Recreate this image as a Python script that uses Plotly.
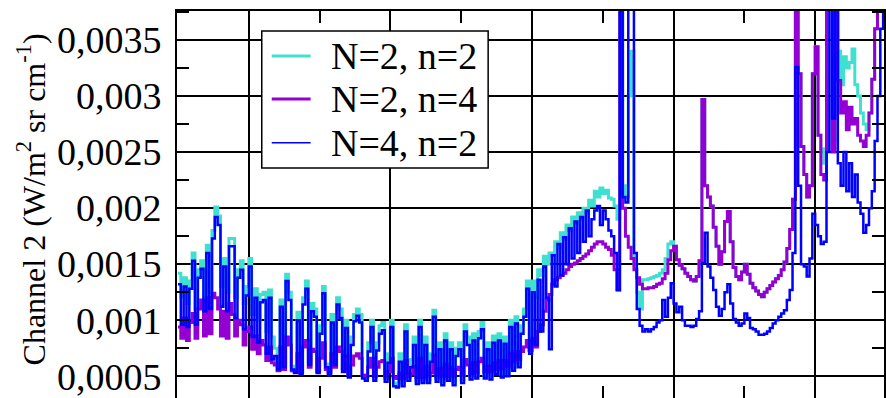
import numpy as np
import plotly.graph_objects as go

# Spectral grid (cm^-1) on which the three radiance spectra are sampled
wavenumber = np.arange(1950, 2450, 2)

# Channel 2 radiance, N=2, n=2
rad_N2_n2 = [
    0.00142, 0.00120, 0.00138, 0.00115, 0.00135, 0.00160, 0.00110, 0.00145, 0.00153, 0.00120,
    0.00167, 0.00125, 0.00180, 0.00201, 0.00193, 0.00130, 0.00155, 0.00125, 0.00173, 0.00173,
    0.00120, 0.00145, 0.00153, 0.00115, 0.00130, 0.00155, 0.00105, 0.00128, 0.00100, 0.00123,
    0.00125, 0.00090, 0.00127, 0.00085, 0.00075, 0.00059, 0.00118, 0.00061, 0.00141, 0.00125,
    0.00059, 0.00056, 0.00107, 0.00055, 0.00120, 0.00135, 0.00063, 0.00115, 0.00110, 0.00056,
    0.00095, 0.00130, 0.00061, 0.00054, 0.00105, 0.00063, 0.00120, 0.00110, 0.00057, 0.00100,
    0.00052, 0.00085, 0.00105, 0.00110, 0.00105, 0.00051, 0.00049, 0.00080, 0.00100, 0.00049,
    0.00080, 0.00095, 0.00098, 0.00048, 0.00070, 0.00100, 0.00044, 0.00043, 0.00070, 0.00044,
    0.00096, 0.00049, 0.00065, 0.00085, 0.00046, 0.00100, 0.00047, 0.00085, 0.00047, 0.00070,
    0.00109, 0.00048, 0.00080, 0.00045, 0.00088, 0.00049, 0.00080, 0.00045, 0.00075, 0.00080,
    0.00047, 0.00096, 0.00085, 0.00050, 0.00088, 0.00051, 0.00090, 0.00098, 0.00051, 0.00080,
    0.00050, 0.00086, 0.00055, 0.00088, 0.00052, 0.00085, 0.00053, 0.00100, 0.00058, 0.00103,
    0.00061, 0.00095, 0.00110, 0.00135, 0.00073, 0.00135, 0.00120, 0.00145, 0.00140, 0.00157,
    0.00150, 0.00160, 0.00158, 0.00170, 0.00164, 0.00178, 0.00172, 0.00185, 0.00180, 0.00192,
    0.00186, 0.00196, 0.00190, 0.00200, 0.00196, 0.00207, 0.00202, 0.00215, 0.00210, 0.00218,
    0.00213, 0.00216, 0.00209, 0.00208, 0.00202, 0.00190, 0.00400, 0.00220, 0.00210, 0.00300,
    0.00340, 0.00150, 0.00125, 0.00110, 0.00136, 0.00136, 0.00137, 0.00138, 0.00139, 0.00140,
    0.00142, 0.00145, 0.00155, 0.00168, 0.00170, 0.00166, 0.00154, 0.00149, 0.00146, 0.00142,
    0.00139, 0.00136, 0.00135, 0.00139, 0.00153, 0.00297, 0.00220, 0.00210, 0.00202, 0.00183,
    0.00166, 0.00150, 0.00161, 0.00188, 0.00197, 0.00170, 0.00147, 0.00139, 0.00136, 0.00143,
    0.00150, 0.00141, 0.00133, 0.00129, 0.00126, 0.00123, 0.00121, 0.00125, 0.00128, 0.00131,
    0.00134, 0.00137, 0.00140, 0.00145, 0.00152, 0.00164, 0.00181, 0.00208, 0.00450, 0.00320,
    0.00255, 0.00230, 0.00210, 0.00220, 0.00320, 0.00344, 0.00265, 0.00253, 0.00240, 0.00450,
    0.00450, 0.00260, 0.00450, 0.00340, 0.00310, 0.00335, 0.00325, 0.00330, 0.00342, 0.00310,
    0.00300, 0.00285, 0.00275, 0.00270, 0.00285, 0.00315, 0.00360, 0.00450, 0.00450, 0.00450,
]

# Channel 2 radiance, N=2, n=4
rad_N2_n4 = [
    0.00094, 0.00084, 0.00102, 0.00082, 0.00098, 0.00106, 0.00084, 0.00110, 0.00118, 0.00086,
    0.00120, 0.00088, 0.00124, 0.00120, 0.00110, 0.00086, 0.00108, 0.00084, 0.00115, 0.00105,
    0.00086, 0.00100, 0.00096, 0.00078, 0.00090, 0.00094, 0.00074, 0.00086, 0.00070, 0.00082,
    0.00078, 0.00064, 0.00076, 0.00062, 0.00060, 0.00055, 0.00076, 0.00056, 0.00085, 0.00078,
    0.00055, 0.00054, 0.00070, 0.00053, 0.00076, 0.00082, 0.00058, 0.00074, 0.00072, 0.00054,
    0.00066, 0.00080, 0.00056, 0.00053, 0.00070, 0.00058, 0.00076, 0.00072, 0.00054, 0.00068,
    0.00052, 0.00060, 0.00068, 0.00070, 0.00066, 0.00051, 0.00050, 0.00058, 0.00066, 0.00050,
    0.00058, 0.00063, 0.00064, 0.00050, 0.00054, 0.00066, 0.00049, 0.00048, 0.00053, 0.00048,
    0.00064, 0.00050, 0.00052, 0.00059, 0.00049, 0.00066, 0.00049, 0.00059, 0.00050, 0.00053,
    0.00069, 0.00050, 0.00057, 0.00050, 0.00061, 0.00050, 0.00058, 0.00050, 0.00056, 0.00058,
    0.00051, 0.00065, 0.00060, 0.00052, 0.00062, 0.00053, 0.00063, 0.00066, 0.00054, 0.00059,
    0.00054, 0.00062, 0.00056, 0.00064, 0.00057, 0.00064, 0.00059, 0.00070, 0.00063, 0.00072,
    0.00065, 0.00072, 0.00076, 0.00082, 0.00073, 0.00084, 0.00076, 0.00090, 0.00096, 0.00108,
    0.00118, 0.00123, 0.00132, 0.00136, 0.00138, 0.00140, 0.00142, 0.00145, 0.00148, 0.00150,
    0.00151, 0.00153, 0.00155, 0.00157, 0.00159, 0.00162, 0.00165, 0.00168, 0.00170, 0.00170,
    0.00168, 0.00165, 0.00163, 0.00158, 0.00145, 0.00127, 0.00450, 0.00200, 0.00175, 0.00165,
    0.00155, 0.00145, 0.00138, 0.00132, 0.00128, 0.00128, 0.00129, 0.00129, 0.00130, 0.00132,
    0.00133, 0.00137, 0.00142, 0.00154, 0.00162, 0.00166, 0.00154, 0.00149, 0.00146, 0.00142,
    0.00139, 0.00136, 0.00135, 0.00139, 0.00153, 0.00297, 0.00220, 0.00210, 0.00202, 0.00183,
    0.00166, 0.00150, 0.00161, 0.00188, 0.00197, 0.00170, 0.00147, 0.00139, 0.00136, 0.00143,
    0.00150, 0.00141, 0.00133, 0.00129, 0.00126, 0.00123, 0.00121, 0.00125, 0.00128, 0.00131,
    0.00134, 0.00137, 0.00140, 0.00145, 0.00152, 0.00164, 0.00181, 0.00208, 0.00450, 0.00320,
    0.00255, 0.00230, 0.00210, 0.00220, 0.00320, 0.00344, 0.00265, 0.00230, 0.00225, 0.00450,
    0.00450, 0.00250, 0.00450, 0.00314, 0.00285, 0.00295, 0.00270, 0.00290, 0.00275, 0.00280,
    0.00265, 0.00260, 0.00255, 0.00265, 0.00285, 0.00315, 0.00360, 0.00450, 0.00450, 0.00450,
]

# Channel 2 radiance, N=4, n=2
rad_N4_n2 = [
    0.00132, 0.00096, 0.00130, 0.00094, 0.00128, 0.00153, 0.00096, 0.00138, 0.00146, 0.00108,
    0.00160, 0.00110, 0.00173, 0.00192, 0.00185, 0.00112, 0.00148, 0.00108, 0.00166, 0.00166,
    0.00102, 0.00138, 0.00145, 0.00092, 0.00122, 0.00148, 0.00085, 0.00120, 0.00080, 0.00116,
    0.00118, 0.00070, 0.00120, 0.00065, 0.00068, 0.00056, 0.00112, 0.00058, 0.00135, 0.00118,
    0.00056, 0.00053, 0.00100, 0.00052, 0.00114, 0.00128, 0.00060, 0.00108, 0.00103, 0.00053,
    0.00088, 0.00124, 0.00058, 0.00051, 0.00098, 0.00060, 0.00114, 0.00102, 0.00054, 0.00093,
    0.00049, 0.00078, 0.00099, 0.00104, 0.00098, 0.00048, 0.00046, 0.00072, 0.00094, 0.00046,
    0.00073, 0.00088, 0.00091, 0.00045, 0.00062, 0.00094, 0.00041, 0.00040, 0.00063, 0.00041,
    0.00090, 0.00046, 0.00058, 0.00078, 0.00043, 0.00094, 0.00044, 0.00078, 0.00044, 0.00063,
    0.00103, 0.00045, 0.00074, 0.00042, 0.00082, 0.00046, 0.00074, 0.00042, 0.00068, 0.00074,
    0.00044, 0.00090, 0.00078, 0.00047, 0.00082, 0.00048, 0.00084, 0.00092, 0.00048, 0.00074,
    0.00047, 0.00080, 0.00052, 0.00082, 0.00049, 0.00079, 0.00050, 0.00094, 0.00055, 0.00097,
    0.00058, 0.00088, 0.00103, 0.00128, 0.00070, 0.00125, 0.00078, 0.00136, 0.00090, 0.00148,
    0.00120, 0.00074, 0.00158, 0.00130, 0.00168, 0.00140, 0.00174, 0.00150, 0.00182, 0.00155,
    0.00188, 0.00160, 0.00192, 0.00170, 0.00198, 0.00175, 0.00190, 0.00198, 0.00202, 0.00185,
    0.00198, 0.00190, 0.00180, 0.00175, 0.00160, 0.00127, 0.00450, 0.00210, 0.00205, 0.00450,
    0.00400, 0.00160, 0.00110, 0.00095, 0.00090, 0.00092, 0.00090, 0.00092, 0.00094, 0.00098,
    0.00100, 0.00118, 0.00103, 0.00120, 0.00133, 0.00115, 0.00107, 0.00112, 0.00100, 0.00095,
    0.00095, 0.00094, 0.00095, 0.00101, 0.00108, 0.00151, 0.00178, 0.00148, 0.00138, 0.00127,
    0.00112, 0.00104, 0.00110, 0.00125, 0.00132, 0.00115, 0.00101, 0.00098, 0.00095, 0.00097,
    0.00106, 0.00102, 0.00093, 0.00092, 0.00090, 0.00087, 0.00087, 0.00088, 0.00090, 0.00093,
    0.00097, 0.00100, 0.00103, 0.00106, 0.00109, 0.00118, 0.00127, 0.00160, 0.00326, 0.00220,
    0.00150, 0.00148, 0.00139, 0.00155, 0.00195, 0.00185, 0.00175, 0.00168, 0.00170, 0.00250,
    0.00450, 0.00280, 0.00450, 0.00240, 0.00220, 0.00250, 0.00215, 0.00240, 0.00210, 0.00230,
    0.00205, 0.00195, 0.00178, 0.00185, 0.00200, 0.00215, 0.00260, 0.00300, 0.00360, 0.00400,
]

series_names = ["N=2, n=2", "N=2, n=4", "N=4, n=2"]
series_colors = ["#40E0D0", "#9400D3", "#0000FF"]
series_widths = [3, 3, 2.5]
legend_widths = [3, 3, 1.5]
series_values = [rad_N2_n2, rad_N2_n4, rad_N4_n2]

y_tick_values = [0.0005, 0.001, 0.0015, 0.002, 0.0025, 0.003, 0.0035]

SERIF = "Liberation Serif"

fig = go.Figure()
for name, color, width, values in zip(series_names, series_colors, series_widths, series_values):
    fig.add_trace(go.Scatter(
        x=wavenumber, y=values, name=name, mode="lines",
        line=dict(color=color, width=width, shape="hv"),
        showlegend=False,
    ))

axis_common = dict(
    showgrid=True, gridcolor="black", gridwidth=1.5,
    showline=True, linecolor="black", linewidth=2, mirror="ticks",
    ticks="inside", ticklen=12, tickwidth=2, tickcolor="black",
    zeroline=False,
)

fig.update_xaxes(
    range=[1949.3, 2448.6], tick0=2000, dtick=100, showticklabels=False,
    minor=dict(dtick=50, ticks="inside", ticklen=12, tickwidth=2, tickcolor="black", showgrid=False),
    **axis_common,
)
fig.update_yaxes(
    range=[0.000306, 0.003759], tickmode="array", tickvals=y_tick_values, tickformat=".4~f",
    tickfont=dict(family=SERIF, size=38, color="black"), ticklabelstandoff=6,
    minor=dict(dtick=0.00025, tick0=0, ticks="inside", ticklen=12, tickwidth=2, tickcolor="black", showgrid=False),
    **axis_common,
)

# Legend frame, line samples and labels
legend_box = dict(x0=0.1199, x1=0.4401, y0=0.5943, y1=0.9483)
legend_rows_y = [0.8837, 0.7726, 0.6597]
shapes = [dict(type="rect", xref="paper", yref="paper", layer="above",
               line=dict(color="black", width=1.5), fillcolor="white", **legend_box)]
annotations = []
for name, color, lw, ry in zip(series_names, series_colors, legend_widths, legend_rows_y):
    shapes.append(dict(type="line", xref="paper", yref="paper", layer="above",
                       x0=0.134, x1=0.189, y0=ry, y1=ry,
                       line=dict(color=color, width=lw)))
    annotations.append(dict(text=name, xref="paper", yref="paper", x=0.2144, y=ry,
                            xanchor="left", yanchor="middle", showarrow=False,
                            font=dict(family=SERIF, size=38, color="black")))

annotations.append(dict(
    text="Channel 2 (W/m<sup>2</sup> sr cm<sup>-1</sup>)",
    xref="paper", yref="paper", x=-0.206, y=0.514, textangle=-90,
    xanchor="center", yanchor="middle", showarrow=False,
    font=dict(family=SERIF, size=32, color="black"),
))

fig.update_layout(
    width=886, height=398,
    margin=dict(l=177, r=0, t=11, b=0, pad=0),
    paper_bgcolor="white", plot_bgcolor="white",
    separators=", ",
    shapes=shapes, annotations=annotations,
    showlegend=False,
)

fig.write_html("out.html")
